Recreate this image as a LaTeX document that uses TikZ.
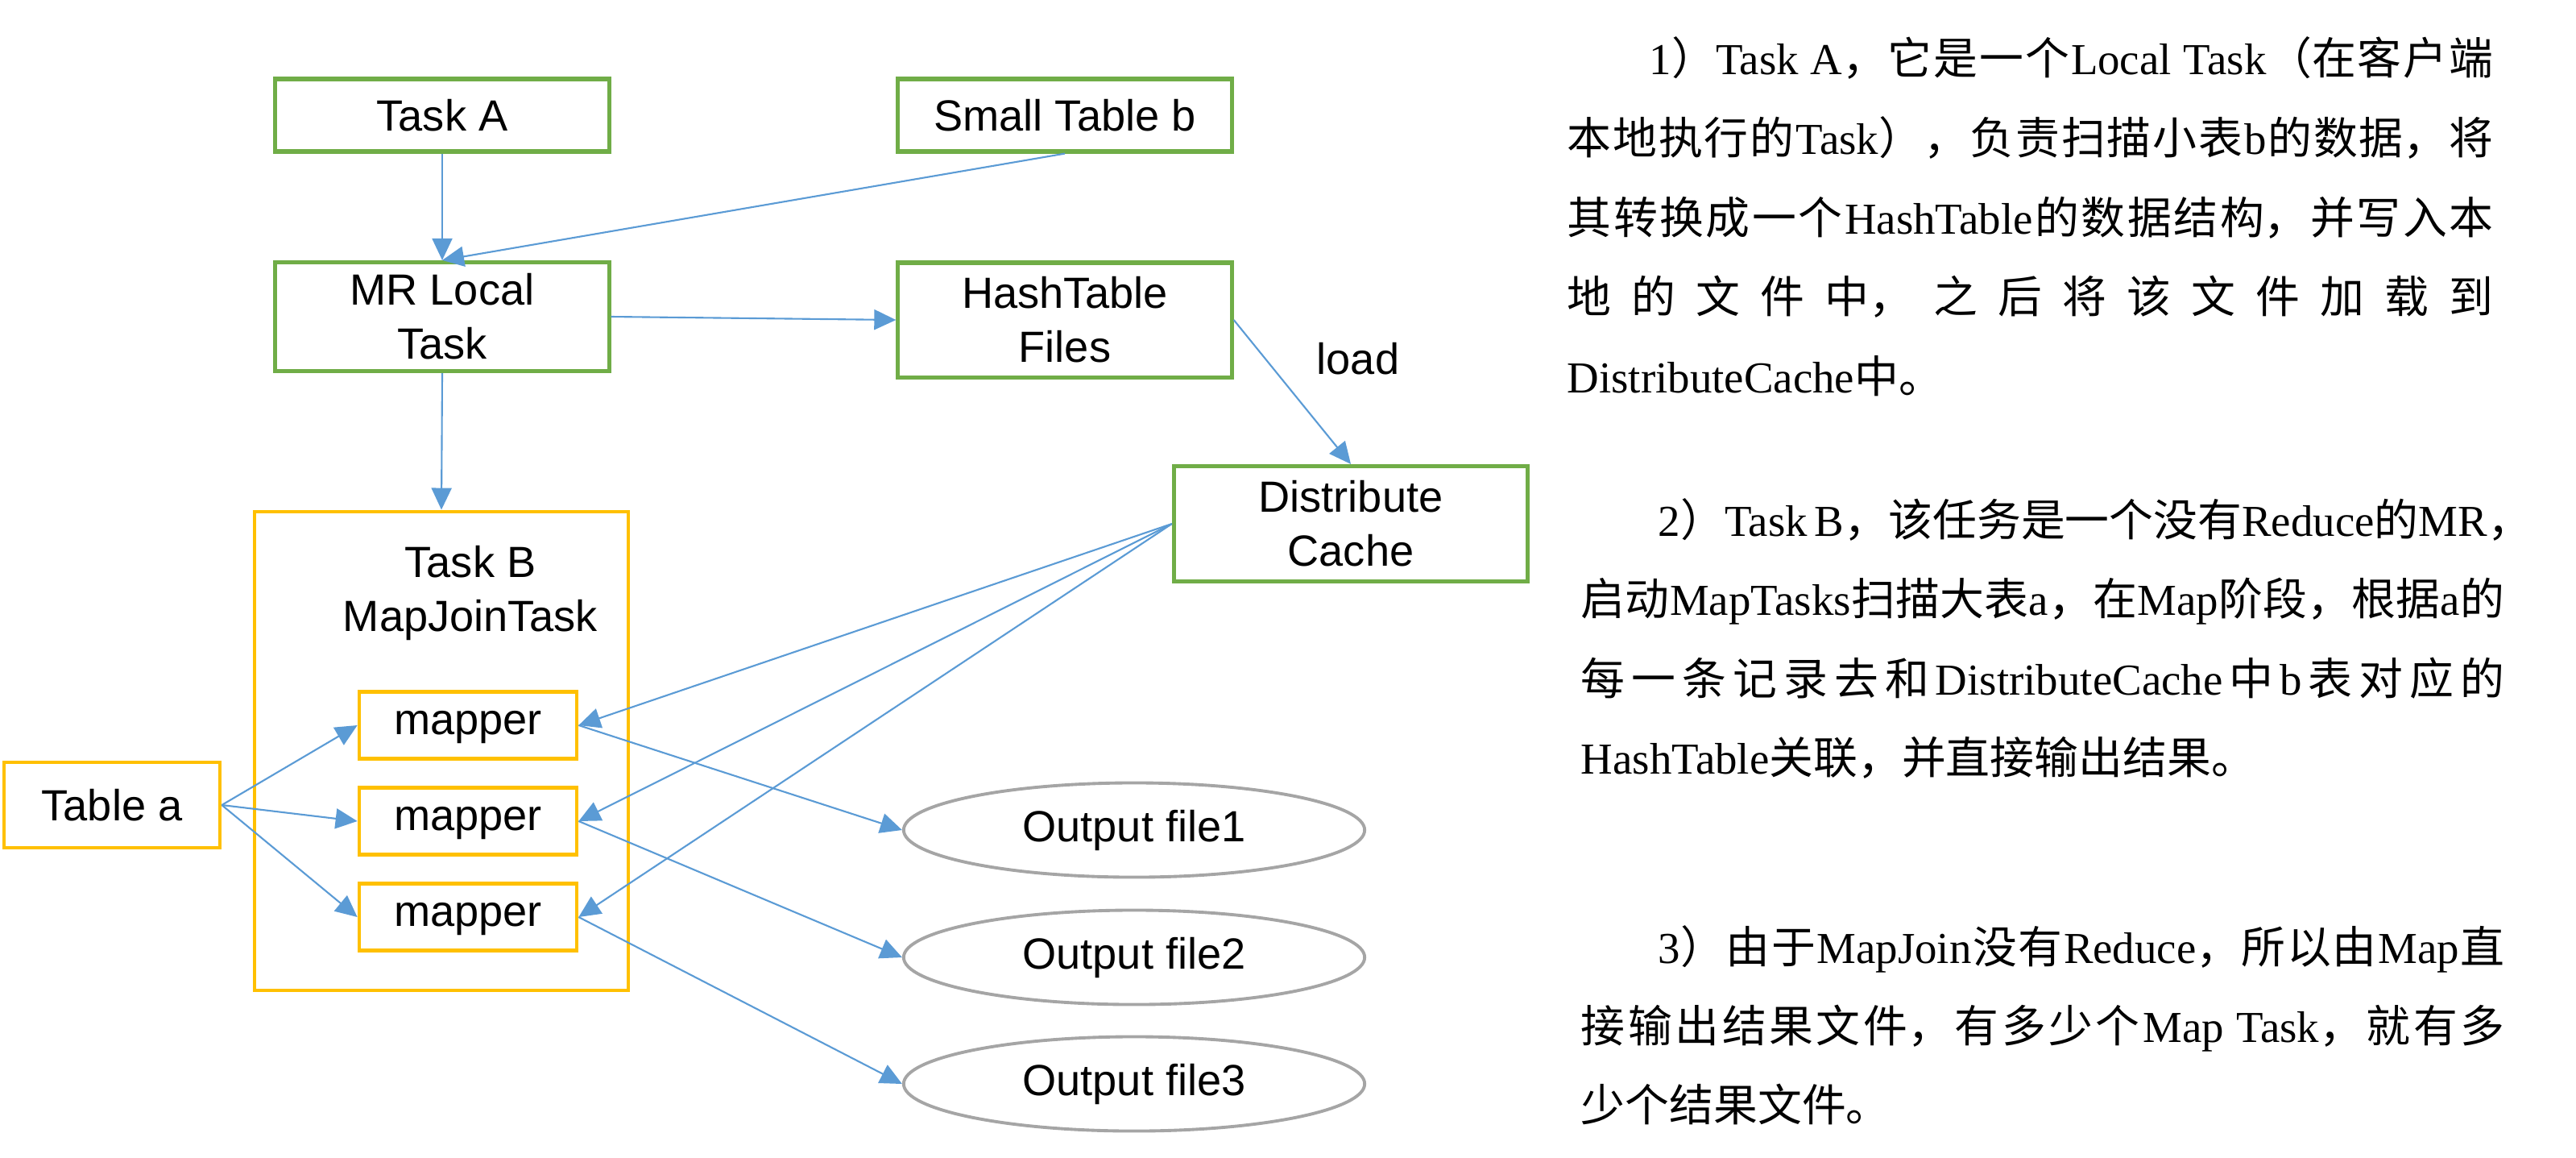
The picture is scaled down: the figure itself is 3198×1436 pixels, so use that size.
\documentclass[tikz,border=0pt]{standalone}
\usepackage{fontspec}
\setmainfont{Liberation Sans}
\newfontfamily\tnrfont{Liberation Serif}
\newfontfamily\cjkfont{Noto Sans CJK SC}
\usetikzlibrary{arrows.meta,shapes.geometric}
\XeTeXlinebreaklocale "zh"
\XeTeXlinebreakskip=0pt plus 4pt
\XeTeXlinebreakpenalty=10000
\definecolor{grn}{HTML}{70AD47}
\definecolor{ylw}{HTML}{FFC000}
\definecolor{blu}{HTML}{5B9BD5}
\definecolor{gry}{HTML}{A5A5A5}
\newcommand{\tn}[1]{{\tnrfont #1}}
\newcommand{\gsp}{\nobreak\hskip 0pt plus 4pt\relax}
\newcommand{\jline}[5]{\node[txtline, text width=#4, align=justify] (#1) at (#2,#3) {\parfillskip=0pt\hyphenpenalty=10000 #5\par};}
\newcommand{\rline}[5]{\node[txtline, text width=#4, align=left] (#1) at (#2,#3) {\hyphenpenalty=10000 #5\par};}
\begin{document}
\begin{tikzpicture}[x=0.01cm,y=-0.01cm,
  every node/.style={font=\fontsize{15.4}{19}\selectfont, inner sep=0pt},
  gbox/.style={draw=grn, line width=1.45pt, minimum width=4.14cm, align=center},
  ybox/.style={draw=ylw, line width=1.3pt, align=center},
  mapbox/.style={ybox, minimum width=2.70cm, minimum height=0.83cm, text height=0.9em, text depth=0.22em},
  ell/.style={ellipse, draw=gry, line width=1.1pt, minimum width=5.72cm, minimum height=1.17cm},
  arr/.style={draw=blu, line width=0.6pt, -{Triangle[length=0.27cm,width=0.25cm]}},
  txtline/.style={anchor=base west, inner sep=0pt, font=\cjkfont\fontsize{15.6}{20}\selectfont}]
\useasboundingbox (0,0) rectangle (3198,1436);
% top row
\node[gbox, minimum height=0.90cm] (taska) at (549,143) {Task A};
\node[gbox, minimum height=0.90cm] (stb) at (1322,143) {Small Table b};
\node[gbox, minimum height=1.35cm] (mr) at (549,393) {MR Local\\Task};
\node[gbox, minimum height=1.42cm] (ht) at (1322,397) {HashTable\\Files};
\node[gbox, minimum width=4.39cm, minimum height=1.43cm] (dc) at (1677,650) {Distribute\\Cache};
\node (load) at (1686,445) {load};
% task B
\node[ybox, minimum width=4.64cm, minimum height=5.94cm] (taskb) at (548,932) {};
\node[align=center] (tblabel) at (584,736) {Task B\\MapJoinTask};
\node[mapbox] (m1) at (581,900) {mapper};
\node[mapbox] (m2) at (581,1019) {mapper};
\node[mapbox] (m3) at (581,1138) {mapper};
\node[ybox, minimum width=2.68cm, minimum height=1.06cm] (tablea) at (139,999) {Table a};
% outputs
\node[ell] (o1) at (1408,1030) {Output file1};
\node[ell] (o2) at (1408,1188) {Output file2};
\node[ell] (o3) at (1408,1345) {Output file3};
% connectors
\draw[arr] (taska.south) -- (mr.north);
\draw[arr] (stb.south) -- (mr.north);
\draw[arr] (mr.east) -- (ht.west);
\draw[arr] (ht.east) -- (dc.north);
\draw[arr] (mr.south) -- (taskb.north);
\foreach \i in {1,2,3}{
  \draw[arr] (tablea.east) -- (m\i.west);
  \draw[arr] (dc.west) -- (m\i.east);
  \draw[arr] (m\i.east) -- (o\i.west);
}
% paragraph 1
\jline{pa}{2047}{92}{10.47cm}{\tn{1}）\tn{Task~A}，它是一个\gsp{}\tn{Local~Task}\gsp{}（在客户端}
\jline{pb}{1945}{191}{11.49cm}{本地执行的\gsp{}\tn{Task}）\gsp{}，负责扫描小表\gsp{}\tn{b}\gsp{}的数据，将}
\jline{pc}{1945}{290}{11.49cm}{其转换成一个\gsp{}\tn{HashTable}\gsp{}的数据结构，并写入本}
\jline{pd}{1945}{388}{11.49cm}{地的文件中，之后将该文件加载到}
\rline{pe}{1945}{487}{11.49cm}{\tn{DistributeCache}中。}
% paragraph 2
\jline{qa}{2058}{665}{10.50cm}{\tn{2}）\tn{Task~B}，该任务是一个没有\gsp{}\tn{Reduce}\gsp{}的\gsp{}\tn{MR}，}
\jline{qb}{1962}{763}{11.46cm}{启动\gsp{}\tn{MapTasks}\gsp{}扫描大表\gsp{}\tn{a}，在\gsp{}\tn{Map}\gsp{}阶段，根据\gsp{}\tn{a}\gsp{}的}
\jline{qc}{1962}{862}{11.46cm}{每一条记录去和\gsp{}\tn{DistributeCache}\gsp{}中\gsp{}\tn{b}\gsp{}表对应的}
\rline{qd}{1962}{960}{11.46cm}{\tn{HashTable}关联，并直接输出结果。}
% paragraph 3
\jline{ra}{2058}{1195}{10.50cm}{\tn{3}）由于\gsp{}\tn{MapJoin}\gsp{}没有\gsp{}\tn{Reduce}，所以由\gsp{}\tn{Map}\gsp{}直}
\jline{rb}{1962}{1293}{11.46cm}{接输出结果文件，有多少个\gsp{}\tn{Map~Task}，就有多}
\rline{rc}{1962}{1391}{11.46cm}{少个结果文件。}
\end{tikzpicture}
\end{document}
